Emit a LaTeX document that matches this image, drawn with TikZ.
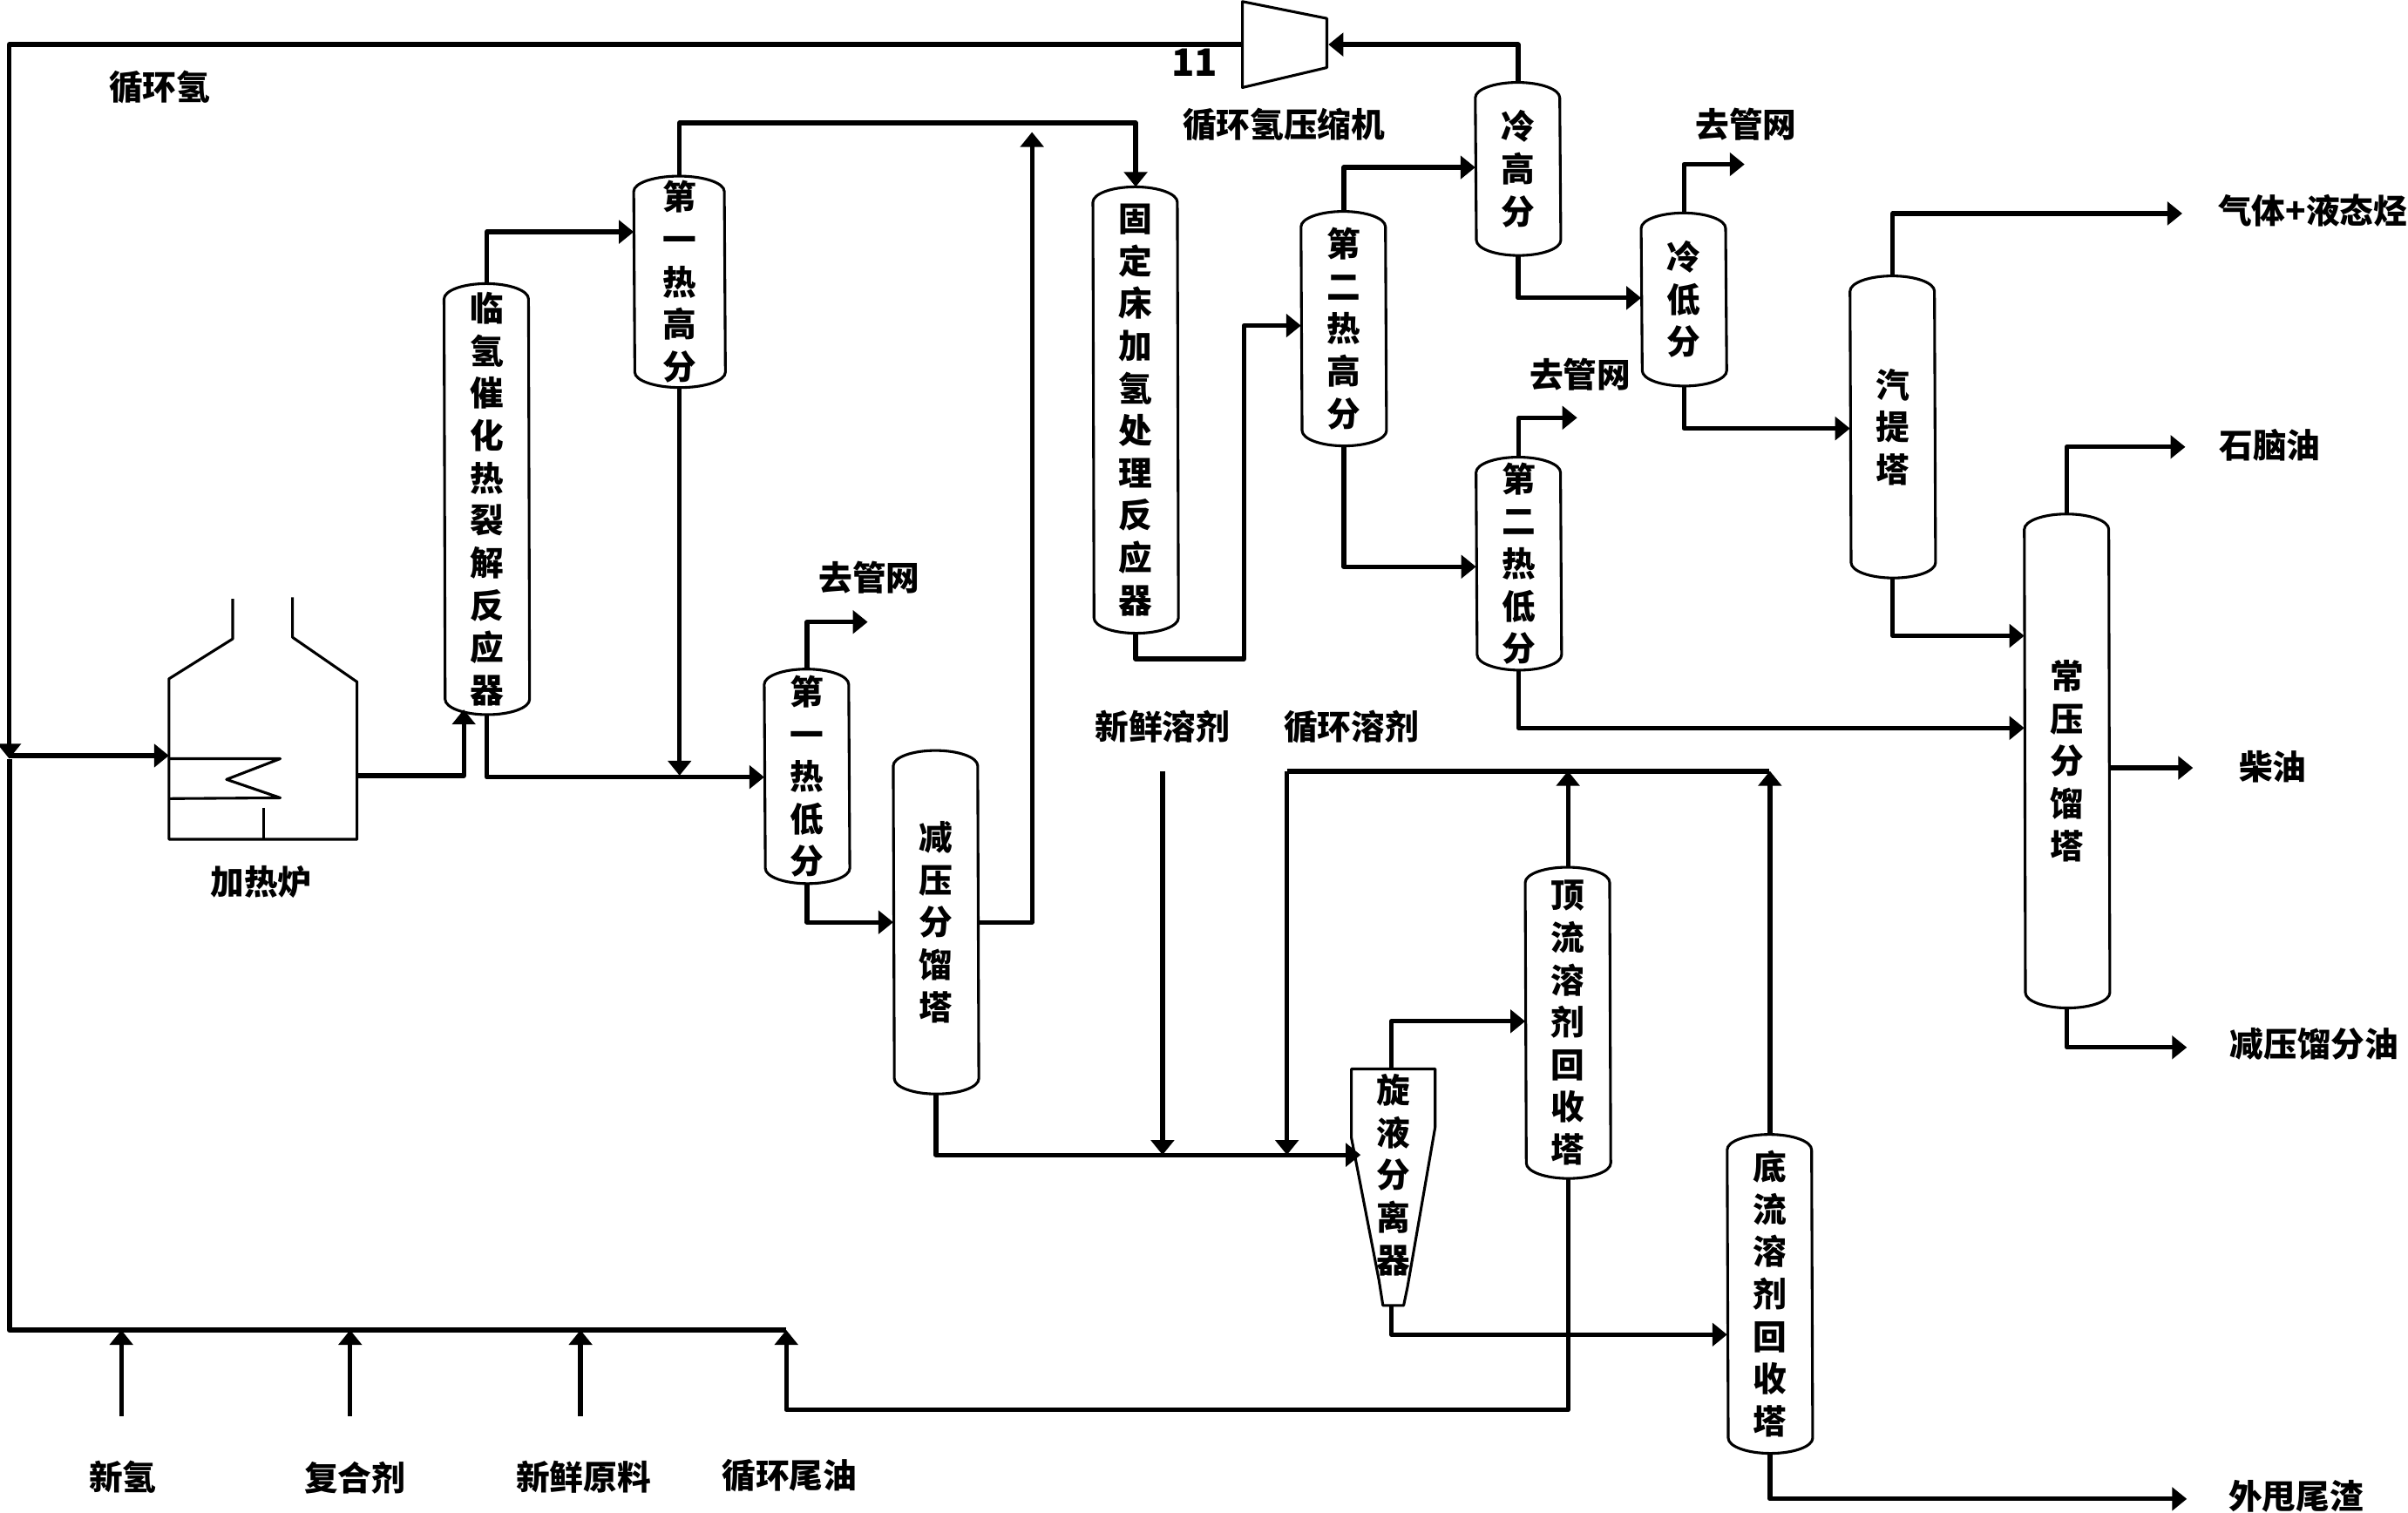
\documentclass[tikz,border=0pt]{standalone}
\usepackage{fontspec}
\setmainfont{Noto Sans CJK SC}
\usetikzlibrary{arrows.meta}
\tikzset{
  vessel/.style={inner sep=0pt,minimum width=1.1cm,minimum height=#1,align=center,
    font=\bfseries\fontsize{12.5}{15.7}\selectfont},
  label/.style={font=\bfseries\fontsize{12.5}{15}\selectfont,inner sep=0pt},
  pipe/.style={draw=black,line width=1.7pt,line join=round,-{Triangle[length=5.5pt,width=8.5pt]}},
  plain/.style={draw=black,line width=1.9pt,line join=round},
  shell/.style={draw=black,line width=1pt,line join=round}
}
\begin{document}
\begin{tikzpicture}[x=0.02cm,y=-0.02cm]
      \useasboundingbox (0,0) rectangle (1568,985);
      % vessels
      \node[vessel=5.6cm] (reactor) at (317,325) {临\\氢\\催\\化\\热\\裂\\解\\反\\应\\器};
      \node[vessel=2.74cm,minimum width=1.18cm] (hotHP1) at (442.5,183.5) {第\\一\\热\\高\\分};
      \node[vessel=2.78cm] (hotLP1) at (525.5,505.5) {第\\一\\热\\低\\分};
      \node[vessel=4.46cm] (vacuum) at (609.5,600.5) {减\\压\\分\\馏\\塔};
      \node[vessel=5.8cm] (fixedbed) at (739.5,267) {固\\定\\床\\加\\氢\\处\\理\\反\\应\\器};
      \node[vessel=3.04cm] (hotHP2) at (875,214) {第\\二\\热\\高\\分};
      \node[vessel=2.76cm] (hotLP2) at (989,367) {第\\二\\热\\低\\分};
      \node[vessel=2.24cm] (coldHP) at (988.5,110) {冷\\高\\分};
      \node[vessel=2.24cm] (coldLP) at (1096.5,195) {冷\\低\\分};
      \node[vessel=3.92cm] (stripper) at (1232.5,278) {汽\\提\\塔};
      \node[vessel=6.42cm] (atmos) at (1346,495.5) {常\\压\\分\\馏\\塔};
      \node[vessel=4.04cm] (topsolv) at (1021,666) {顶\\流\\溶\\剂\\回\\收\\塔};
      \node[vessel=4.14cm] (botsolv) at (1152.5,842.5) {底\\流\\溶\\剂\\回\\收\\塔};
      \foreach \v/\r in {reactor/.55,hotHP1/.59,hotLP1/.55,vacuum/.55,fixedbed/.55,hotHP2/.55,hotLP2/.55,
          coldHP/.55,coldLP/.55,stripper/.55,atmos/.55,topsolv/.55,botsolv/.55}
        \draw[shell] ([yshift=-.2cm]\v.north west) arc[start angle=180,end angle=0,x radius=\r cm,y radius=.2cm]
          -- ([yshift=.2cm]\v.south east) arc[start angle=0,end angle=-180,x radius=\r cm,y radius=.2cm] -- cycle;
      % cyclone and compressor
      \draw[shell] (880,696) -- (934.5,696) -- (934.5,734) -- (916.5,838) -- (914,850)
        -- (900.5,850) -- (898,834) -- (880,741) -- cycle;
      \node[align=center,inner sep=0pt,font=\bfseries\fontsize{12.5}{15.7}\selectfont] (cyclone) at (907.5,765) {旋\\液\\分\\离\\器};
      \coordinate (cyctop) at (906,696);
      \coordinate (cycbot) at (906,850);
      \coordinate (cycin) at (886,752);
      \draw[shell] (809,1) -- (864,12) -- (864,44) -- (809,57) -- cycle;
      \coordinate (compin) at (865,29);
      \coordinate (compout) at (809,29);
      \node[font=\bfseries\fontsize{14}{15}\selectfont,inner sep=0pt] (eleven) at (778,41) {11};
      % furnace
      \draw[shell] (151.5,390) -- (151.5,416) -- (110,442) -- (110,546.5) -- (232.5,546.5)
        -- (232.5,444) -- (190.5,415) -- (190.5,389);
      \draw[shell] (110,494) -- (182.5,494) -- (147.5,507.5) -- (182.5,519.5) -- (110,520);
      \draw[shell] (171.5,526) -- (171.5,546.5);
      \coordinate (furnin) at (110,492);
      \coordinate (furnout) at (232.5,505);
      % labels
      \node[label] (recyclehlabel) at (104,57) {循环氢};
      \node[label] (complabel) at (836,81) {循环氢压缩机};
      \node[label] (furnlabel) at (170,574) {加热炉};
      \node[label] (grid1) at (566,376) {去管网};
      \node[label] (grid2) at (1029,244) {去管网};
      \node[label] (grid3) at (1137,81) {去管网};
      \node[label] (freshsolv) at (757,473) {新鲜溶剂};
      \node[label] (recsolv) at (880,473) {循环溶剂};
      \node[label] (gas) at (1506,137) {气体+液态烃};
      \node[label] (naphtha) at (1478,290) {石脑油};
      \node[label] (diesel) at (1480,499) {柴油};
      \node[label] (vgo) at (1507,680) {减压馏分油};
      \node[label] (residue) at (1495,974) {外甩尾渣};
      \node[label] (newh) at (80,962) {新氢};
      \node[label] (additive) at (231,962) {复合剂};
      \node[label] (feed) at (380,962) {新鲜原料};
      \node[label] (tailoil) at (514,961) {循环尾油};
      % free line ends
      \coordinate (solv1) at (757,502);
      \coordinate (solv2) at (838,502);
      \coordinate (join) at (512,866);
      \coordinate (lefttop) at (6,29);
      \coordinate (leftmid) at (6,494);
      \coordinate (leftbot) at (6,866);
      \coordinate (newhend) at (79,922);
      \coordinate (addend) at (228,922);
      \coordinate (feedend) at (378,922);
      % recycle hydrogen and feed
      \path[pipe] (coldHP.north) |- (compin);
      \path[pipe] (compout) -- (lefttop) -- (leftmid);
      \path[plain] (leftmid) -- (leftbot) -- (join);
      \path[pipe] (leftmid |- furnin) -- (furnin);
      \path[pipe] (newhend) -- (newhend |- join);
      \path[pipe] (addend) -- (addend |- join);
      \path[pipe] (feedend) -- (feedend |- join);
      \path[pipe] (topsolv.south) |- (512,918) -- (join);
      % first stage
      \path[pipe] (furnout) -| (302,462);
      \path[pipe] (reactor.north) |- (hotHP1.west |- 0,151);
      \path[pipe] (reactor.south) |- (hotLP1.west |- 0,506);
      \path[pipe] (hotHP1.south) -- (hotHP1.south |- 0,505);
      \path[pipe] (hotHP1.north) |- (739.5,80) -- (fixedbed.north);
      \path[pipe] (hotLP1.north) |- (565,405);
      \path[pipe] (hotLP1.south) |- (vacuum.west);
      \path[pipe] (vacuum.east) -| (672,86);
      \path[pipe] (vacuum.south) |- (cycin);
      % second stage
      \path[pipe] (fixedbed.south) |- (810,429) |- (hotHP2.west |- 0,212);
      \path[pipe] (hotHP2.north) |- (coldHP.west |- 0,109);
      \path[pipe] (hotHP2.south) |- (hotLP2.west |- 0,369);
      \path[pipe] (hotLP2.north) |- (1027,272);
      \path[pipe] (hotLP2.south) |- (atmos.west |- 0,474);
      \path[pipe] (coldHP.south) |- (coldLP.west |- 0,194);
      \path[pipe] (coldLP.north) |- (1136,107);
      \path[pipe] (coldLP.south) |- (stripper.west |- 0,279);
      \path[pipe] (stripper.north) |- (1421,139);
      \path[pipe] (stripper.south) |- (atmos.west |- 0,414);
      \path[pipe] (atmos.north) |- (1423,291);
      \path[pipe] (atmos.east |- 0,500) -- (1428,500);
      \path[pipe] (atmos.south) |- (1424,682);
      % solvent recovery
      \path[pipe] (solv1) -- (solv1 |- cycin);
      \path[pipe] (solv2) -- (solv2 |- cycin);
      \path[plain] (solv2) -- (1152,502);
      \path[pipe] (topsolv.north) -- (topsolv.north |- solv2);
      \path[pipe] (botsolv.north) -- (botsolv.north |- solv2);
      \path[pipe] (cyctop) |- (topsolv.west |- 0,665);
      \path[pipe] (cycbot) |- (botsolv.west |- 0,869);
      \path[pipe] (botsolv.south) |- (1424,976);
\end{tikzpicture}
\end{document}
